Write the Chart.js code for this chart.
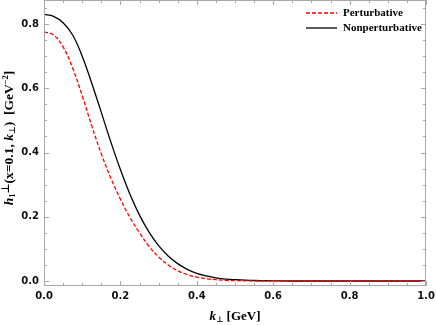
<!DOCTYPE html>
<html>
<head>
<meta charset="utf-8">
<script src="https://cdn.jsdelivr.net/npm/chart.js@4"></script>
<style>
  html, body { margin: 0; padding: 0; background: #fff; }
  #wrap { width: 436px; height: 325px; }
</style>
</head>
<body>
<div id="wrap"><canvas id="chart" width="436" height="325"></canvas></div>
<script>
// k_perp values (GeV)
const kPerp = [0, 0.025, 0.05, 0.075, 0.1, 0.125, 0.15, 0.175, 0.2, 0.225, 0.25, 0.275, 0.3,
  0.325, 0.35, 0.375, 0.4, 0.425, 0.45, 0.475, 0.5, 0.55, 0.6, 0.65, 0.7, 0.8, 0.9, 1.0];
const perturbative = [0.776, 0.766, 0.729, 0.663, 0.577, 0.483, 0.396, 0.320, 0.255, 0.198, 0.150, 0.108, 0.075,
  0.050, 0.032, 0.020, 0.012, 0.007, 0.004, 0.002, 0.001, 0.0003, 0, 0, 0, 0, 0, 0];
const nonperturbative = [0.830, 0.824, 0.804, 0.766, 0.700, 0.616, 0.525, 0.433, 0.347, 0.270, 0.205, 0.152, 0.110,
  0.078, 0.054, 0.036, 0.024, 0.016, 0.010, 0.006, 0.004, 0.0015, 0.0005, 0, 0, 0, 0, 0];
const seriesNames = ['Perturbative', 'Nonperturbative'];
const xTicks = [0, 0.2, 0.4, 0.6, 0.8, 1.0];
const yTicks = [0, 0.2, 0.4, 0.6, 0.8];

const toPoints = ys => kPerp.map((k, i) => ({ x: k, y: ys[i] }));

// frame with inward ticks, Mathematica style
const framePlugin = {
  id: 'frame',
  afterDraw(chart) {
    const { ctx, chartArea: a, scales } = chart;
    ctx.save();
    ctx.strokeStyle = '#a8a8a8';
    ctx.lineWidth = 1;
    ctx.strokeRect(a.left + 0.5, a.top + 0.5, a.right - a.left - 1, a.bottom - a.top - 1);
    ctx.beginPath();
    for (let v = 0; v <= 1.0001; v += 0.05) {
      const x = Math.round(scales.x.getPixelForValue(v)) + 0.5;
      const major = Math.abs(v * 5 - Math.round(v * 5)) < 1e-6;
      const len = major ? 5 : 3;
      ctx.moveTo(x, a.bottom); ctx.lineTo(x, a.bottom - len);
      ctx.moveTo(x, a.top); ctx.lineTo(x, a.top + len);
    }
    for (let v = 0; v <= 0.8501; v += 0.05) {
      const y = Math.round(scales.y.getPixelForValue(v)) + 0.5;
      const major = Math.abs(v * 5 - Math.round(v * 5)) < 1e-6;
      const len = major ? 5 : 3;
      ctx.moveTo(a.left, y); ctx.lineTo(a.left + len, y);
      ctx.moveTo(a.right, y); ctx.lineTo(a.right - len, y);
    }
    ctx.stroke();

    // axis titles
    ctx.fillStyle = '#000';
    ctx.textBaseline = 'alphabetic';
    const xt = [
      ['italic bold 13px "Liberation Serif"', 'k'],
      ['bold 8px "DejaVu Sans"', '\u22a5', 2],
      ['bold 13px "Liberation Serif"', ' [GeV]']
    ];
    drawRich(ctx, xt, (a.left + a.right) / 2, 320);

    ctx.translate(13, 138);
    ctx.rotate(-Math.PI / 2);
    const yt = [
      ['italic bold 13.5px "Liberation Serif"', 'h'],
      ['bold 8.5px "Liberation Serif"', '1', 2],
      ['bold 11px "DejaVu Sans"', '\u22a5', -4],
      ['bold 13.5px "Liberation Serif"', '(x=0.1, '],
      ['italic bold 13.5px "Liberation Serif"', 'k'],
      ['bold 8.5px "DejaVu Sans"', '\u22a5', 2],
      ['bold 13.5px "Liberation Serif"', ')  [GeV'],
      ['bold 8.5px "Liberation Serif"', '\u22122', -5],
      ['bold 13.5px "Liberation Serif"', ']']
    ];
    drawRich(ctx, yt, 0, 0);
    ctx.restore();

    // legend
    ctx.save();
    chart.data.datasets.forEach((ds, i) => {
      const y = 13 + i * 15;
      ctx.strokeStyle = ds.borderColor;
      ctx.lineWidth = 1.3;
      ctx.setLineDash(ds.borderDash || []);
      ctx.beginPath();
      ctx.moveTo(306, y); ctx.lineTo(337, y);
      ctx.stroke();
      ctx.setLineDash([]);
      ctx.fillStyle = '#000';
      ctx.font = 'bold 11px "Liberation Serif"';
      ctx.textBaseline = 'middle';
      ctx.textAlign = 'left';
      ctx.fillText(ds.label, 343, y);
    });
    ctx.restore();
  }
};

function drawRich(ctx, parts, cx, cy) {
  let total = 0;
  parts.forEach(p => { ctx.font = p[0]; total += ctx.measureText(p[1]).width; });
  let x = cx - total / 2;
  ctx.textAlign = 'left';
  parts.forEach(p => {
    ctx.font = p[0];
    ctx.fillText(p[1], x, cy + (p[2] || 0));
    x += ctx.measureText(p[1]).width;
  });
}

new Chart(document.getElementById('chart'), {
  type: 'line',
  data: {
    datasets: [
      {
        label: seriesNames[0],
        data: toPoints(perturbative),
        borderColor: '#ff0000',
        borderWidth: 1.3,
        borderDash: [4, 2],
        pointRadius: 0,
        tension: 0.4
      },
      {
        label: seriesNames[1],
        data: toPoints(nonperturbative),
        borderColor: '#000000',
        borderWidth: 1.3,
        pointRadius: 0,
        tension: 0.4
      }
    ]
  },
  options: {
    responsive: false,
    animation: false,
    layout: { padding: { top: 0, right: 10, left: 0, bottom: 0 } },
    plugins: { legend: { display: false }, tooltip: { enabled: false } },
    scales: {
      x: {
        type: 'linear',
        min: 0,
        max: 1,
        grid: { display: false, drawTicks: false },
        border: { display: false },
        afterBuildTicks: s => { s.ticks = xTicks.map(v => ({ value: v })); },
        afterFit: s => { s.height = 39; s.paddingLeft = 0; s.paddingRight = 0; },
        ticks: {
          padding: 4,
          color: '#111',
          font: { family: 'DejaVu Sans', weight: 'bold', size: 10 },
          maxRotation: 0,
          callback: v => v.toFixed(1)
        }
      },
      y: {
        type: 'linear',
        min: -0.0156,
        max: 0.875,
        grid: { display: false, drawTicks: false },
        border: { display: false },
        afterBuildTicks: s => { s.ticks = yTicks.map(v => ({ value: v })); },
        afterFit: s => { s.width = 44; s.paddingTop = 0; s.paddingBottom = 0; },
        ticks: {
          padding: 5,
          color: '#111',
          font: { family: 'DejaVu Sans', weight: 'bold', size: 10 },
          callback: v => v.toFixed(1)
        }
      }
    }
  },
  plugins: [framePlugin]
});
</script>
</body>
</html>
